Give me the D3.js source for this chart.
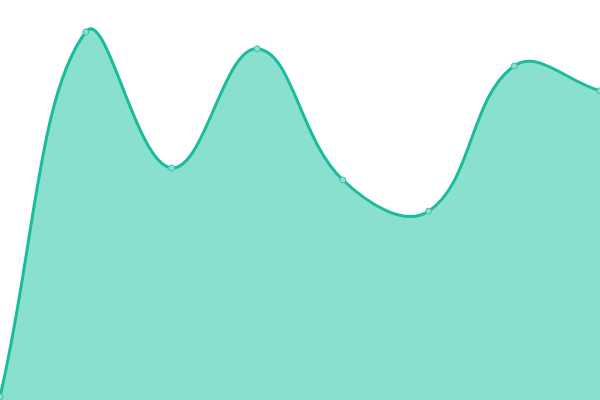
<!DOCTYPE html>
<html><head><meta charset="utf-8">
<script src="https://cdn.jsdelivr.net/npm/d3@7/dist/d3.min.js"></script>
<style>html,body{margin:0;padding:0;background:#fff;}svg{display:block;}</style>
</head><body>
<svg id="c" width="600" height="400"></svg>
<script>
const categories = ["1","2","3","4","5","6","7","8"];
const values = [0.8, 92, 58, 87.8, 55, 47.2, 83.5, 77.3];

const W = 600, H = 400;
const TENSION = 0.4;

// d3 custom curve: tension spline (distance-weighted control points)
function SplineCurve(context) { this._context = context; }
SplineCurve.prototype = {
  areaStart() { this._line = 0; },
  areaEnd() { this._line = NaN; },
  lineStart() { this._pts = []; },
  point(x, y) { this._pts.push([+x, +y]); },
  lineEnd() {
    const p = this._pts, n = p.length, ctx = this._context;
    if (n) {
      const cps = p.map((cur, i) => {
        const prev = p[i - 1] || cur, next = p[i + 1] || cur;
        const d01 = Math.hypot(cur[0] - prev[0], cur[1] - prev[1]);
        const d12 = Math.hypot(next[0] - cur[0], next[1] - cur[1]);
        let s01 = d01 / (d01 + d12), s12 = d12 / (d01 + d12);
        if (isNaN(s01)) s01 = 0; if (isNaN(s12)) s12 = 0;
        const fa = TENSION * s01, fb = TENSION * s12;
        const cl = v => [Math.max(0, Math.min(W, v[0])), Math.max(0, Math.min(H, v[1]))];
        return {
          prev: cl([cur[0] - fa * (next[0] - prev[0]), cur[1] - fa * (next[1] - prev[1])]),
          next: cl([cur[0] + fb * (next[0] - prev[0]), cur[1] + fb * (next[1] - prev[1])])
        };
      });
      if (this._line) ctx.lineTo(p[0][0], p[0][1]); else ctx.moveTo(p[0][0], p[0][1]);
      for (let i = 1; i < n; i++) {
        ctx.bezierCurveTo(cps[i-1].next[0], cps[i-1].next[1], cps[i].prev[0], cps[i].prev[1], p[i][0], p[i][1]);
      }
    }
    if (this._line || (this._line !== 0 && n === 1)) ctx.closePath();
    this._line = 1 - this._line;
  }
};
const curve = ctx => new SplineCurve(ctx);

const svg = d3.select("#c");
const x = d3.scalePoint().domain(categories).range([0, W]);
const y = d3.scaleLinear().domain([0, 100]).range([H, 0]);
const data = categories.map((c, i) => ({c, v: values[i]}));

svg.append("path").datum(data)
  .attr("d", d3.area().x(d => x(d.c)).y0(H).y1(d => y(d.v)).curve(curve))
  .attr("fill", "#8ae0cf");
svg.append("path").datum(data)
  .attr("d", d3.line().x(d => x(d.c)).y(d => y(d.v)).curve(curve))
  .attr("fill", "none").attr("stroke", "#1abc9c").attr("stroke-width", 3);
svg.selectAll("circle").data(data).join("circle")
  .attr("cx", d => x(d.c)).attr("cy", d => y(d.v)).attr("r", 3)
  .attr("fill", "#8ae0cf").attr("stroke", "#3cc4a8").attr("stroke-width", 1);
</script>
</body></html>
